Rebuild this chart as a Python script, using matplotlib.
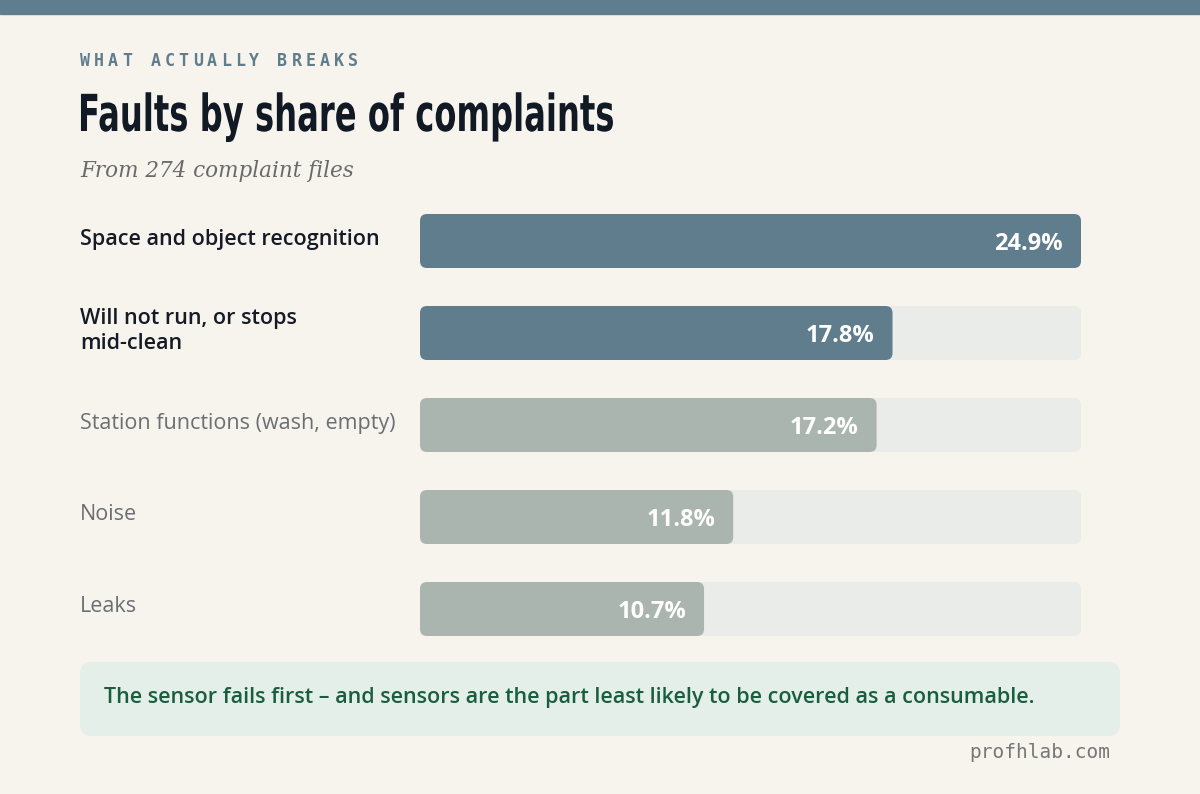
import matplotlib.pyplot as plt
from matplotlib.patches import FancyBboxPatch, Rectangle, PathPatch
from matplotlib.textpath import TextPath
from matplotlib.font_manager import FontProperties
from matplotlib.transforms import Affine2D, IdentityTransform

categories = ["Space and object recognition", "Will not run, or stops\nmid-clean",
              "Station functions (wash, empty)", "Noise", "Leaks"]
shares = [24.9, 17.8, 17.2, 11.8, 10.7]
highlight = [True, True, False, False, False]

BG = "#f7f4ee"
SLATE = "#5f7d8c"
GREY_BAR = "#abb5b0"
TRACK = "#e9ece8"

W, H = 1200, 794
fig = plt.figure(figsize=(12, 7.94), dpi=100, facecolor=BG)


def fx(px):
    return px / W


def fy(py):
    return 1 - py / H


# top band
fig.patches.append(Rectangle((0, fy(14)), 1, 14 / H, transform=fig.transFigure,
                             color=SLATE, zorder=0))

# letter-spaced kicker
kicker = "WHAT ACTUALLY BREAKS"
for k, ch in enumerate(kicker):
    fig.text(fx(80 + 14.1 * k), fy(61), ch, family="DejaVu Sans Mono",
             fontsize=12, color=SLATE, va="center", fontweight="bold")

# condensed title: squeeze a bold text path horizontally
title = "Faults by share of complaints"
tp = TextPath((0, 0), title, size=51, prop=FontProperties(family="DejaVu Sans", weight="bold"))
tw = tp.get_extents().width
sx = 532 / tw
tr = Affine2D().scale(sx, 1).translate(78, H - 131)
fig.patches.append(PathPatch(tr.transform_path(tp), transform=IdentityTransform(),
                             fc="#111a24", ec="none"))

fig.text(fx(80), fy(171), "From 274 complaint files", family="DejaVu Serif",
         style="italic", fontsize=15.5, color="#6a6a6a", va="center")

# bar axes: x 420..1081 px, y 214..636 px
ax = fig.add_axes([fx(420), fy(636), fx(1081 - 420), (636 - 214) / H])
ax.set_facecolor("none")
xmax = 24.9
pad = 27 / 92
ax.set_xlim(0, xmax)
ax.set_ylim(len(shares) - 1 + pad, -pad)
ax.axis("off")
bh = 54 / 92
aspect = (661 / xmax) / 92
r = 7 / (661 / xmax)
for i, (v, hl) in enumerate(zip(shares, highlight)):
    for width, col in ((xmax, TRACK), (v, SLATE if hl else GREY_BAR)):
        ax.add_patch(FancyBboxPatch((0, i - bh / 2), width, bh,
                                    boxstyle=f"round,pad=0,rounding_size={r}",
                                    mutation_aspect=aspect,
                                    fc=col, ec="none"))
    ax.text(v - 18 / (661 / xmax), i + 0.03, f"{v}%", ha="right", va="center",
            color="white", fontsize=17, fontweight="bold", family="Open Sans")
    py = 239 + 92 * i
    fig.text(fx(80), fy(py), categories[i], family="Open Sans", fontsize=15.5,
             color="#151b26" if hl else "#6b6f73",
             fontweight="semibold" if hl else "normal", va="center", linespacing=1.2)

# callout box
fig.patches.append(FancyBboxPatch((fx(80), fy(736)), fx(1040), 74 / H,
                                  boxstyle="round,pad=0,rounding_size=0.01",
                                  transform=fig.transFigure, fc="#e3efe8", ec="none",
                                  mutation_aspect=W / H))
fig.text(fx(104), fy(697), "The sensor fails first \u2013 and sensors are the part least likely to be covered as a consumable.",
         family="Open Sans", fontsize=15.5, fontweight="semibold", color="#1b5e3f", va="center")
fig.text(fx(1110), fy(752), "profhlab.com", family="DejaVu Sans Mono", fontsize=14,
         color="#777777", ha="right", va="center")

fig.savefig("out.png", dpi=100, facecolor=BG)
plt.close(fig)
